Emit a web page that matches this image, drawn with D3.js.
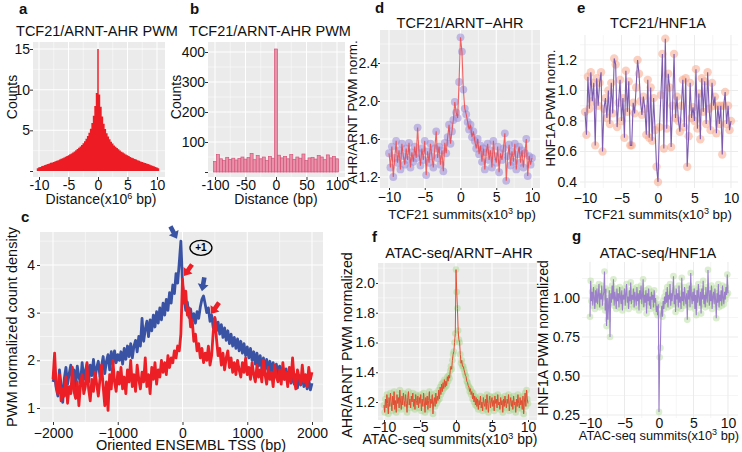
<!DOCTYPE html>
<html><head><meta charset="utf-8">
<script src="https://cdn.jsdelivr.net/npm/d3@7"></script>
<style>body{margin:0;background:#fff}svg{display:block}text{font-family:'Liberation Sans',Arial,Helvetica,sans-serif}</style>
</head><body>
<script>
// ---------------- DATA ----------------
// Panel a: histogram of distances (x10^6 bp), bin width 0.25, centers -10.25 .. 10.25
const histA_binWidth = 0.25;
const histA_firstCenter = -10.25;
const histA_counts = [0.35,0.45,0.5,0.6,0.66,0.74,0.8,0.86,0.93,1.0,1.05,1.12,1.2,1.26,1.33,1.42,1.5,1.57,1.65,1.75,1.84,1.95,2.05,2.15,2.28,2.4,2.55,2.7,2.85,3.0,3.2,3.4,3.65,3.95,4.3,4.7,5.2,5.9,6.8,8.0,9.6,
  15,
  9.4,7.9,6.7,5.8,5.15,4.65,4.25,3.9,3.6,3.38,3.15,2.98,2.82,2.66,2.52,2.38,2.26,2.14,2.03,1.93,1.83,1.73,1.64,1.56,1.48,1.4,1.33,1.25,1.18,1.11,1.04,0.98,0.92,0.85,0.79,0.72,0.65,0.58,0.5,0.43,0.33];

// Panel b: histogram of distances (bp), bin width 5, centers -100 .. 100
const histB_binWidth = 5;
const histB_centers = d3.range(-100, 101, 5);
const histB_counts = [35,58,44,38,49,42,46,40,45,50,43,48,62,41,55,44,50,38,52,46,410,56,47,52,44,58,42,50,46,60,38,47,49,43,55,50,41,57,47,52,44];

// Panel c: density around oriented TSS, positions -2000..2000 step 25
const tssPositions = d3.range(-2000, 2001, 25);
const tssBlue = [1.55,1.68,1.42,1.25,1.80,1.48,1.12,1.62,1.85,1.50,
 1.72,1.90,1.55,1.80,1.45,1.88,1.65,1.52,1.95,1.60,
 1.78,1.92,1.55,1.90,1.68,2.02,1.62,1.85,1.98,1.66,
 1.88,2.08,1.72,1.98,2.12,1.80,2.18,1.92,2.20,1.95,
 2.12,
 2.00,2.18,1.92,2.25,2.02,2.30,2.08,2.35,2.05,2.30,
 2.42,2.18,2.50,2.30,2.88,2.40,2.65,2.82,2.50,2.85,
 2.62,2.95,2.70,3.02,2.78,3.10,2.85,3.20,2.95,3.28,
 3.05,3.42,3.20,3.58,3.40,3.82,3.62,4.05,4.50,3.60,
 3.30,3.05,3.22,2.90,3.08,2.82,2.98,2.78,3.02,2.88,
 3.12,3.28,3.35,3.18,3.00,3.10,2.82,2.95,2.68,2.88,
 2.62,2.80,2.55,2.75,2.48,2.68,2.42,2.62,2.35,2.55,
 2.30,2.48,2.25,2.45,2.20,2.40,2.15,2.35,2.10,2.28,
 2.05,2.25,2.00,2.18,1.92,2.15,1.88,2.10,1.82,2.05,
 1.80,2.02,1.78,1.98,1.72,1.95,1.70,1.92,1.66,1.88,
 1.65,1.85,1.60,1.82,1.55,1.78,1.52,1.75,1.50,1.70,
 1.42,1.68,1.48,1.72,1.45,1.65,1.40,1.60,1.38,1.52];
const tssRed = [1.60,2.15,1.45,1.30,1.70,1.15,1.40,1.25,1.65,1.10,
 1.45,1.30,1.85,1.35,1.20,1.55,1.05,1.50,1.70,1.30,
 1.45,1.95,1.40,1.15,1.60,1.35,1.75,1.50,1.25,1.60,
 1.90,1.45,1.05,1.55,0.95,1.70,1.40,2.00,1.55,1.35,
 1.75,
 1.50,1.85,1.40,1.65,1.30,1.80,1.55,2.00,1.45,1.70,
 1.35,1.90,1.60,1.40,1.75,1.55,2.05,1.45,1.70,1.30,
 1.85,1.60,1.95,1.50,1.80,1.65,2.00,1.75,1.95,1.70,
 2.10,1.85,2.05,1.95,2.20,2.05,2.30,2.20,2.55,3.70,
 3.20,3.45,2.95,3.10,2.70,2.85,2.40,2.55,2.20,2.35,
 2.05,2.25,1.95,2.15,2.00,2.30,1.90,2.10,2.60,2.90,
 2.45,2.10,2.25,1.90,2.15,1.80,2.05,2.20,1.85,2.05,
 1.75,1.95,1.70,2.00,1.80,1.65,1.95,1.75,2.05,1.70,
 1.85,1.60,1.95,1.70,1.55,1.90,1.65,1.80,1.55,2.00,
 1.70,1.50,1.85,1.60,1.75,1.45,1.90,1.65,1.55,1.80,
 1.50,1.95,1.60,1.75,1.45,1.85,1.55,2.05,1.60,1.40,
 1.80,1.65,1.50,1.90,1.55,1.70,1.45,1.85,1.60,1.75];
const tssArrows = [
  {bp: -85, v: 4.55, angle: 62, color: "blue"},
  {bp: 23,  v: 3.77, angle: 125, color: "red"},
  {bp: 300, v: 3.45, angle: 100, color: "blue"},
  {bp: 440, v: 2.97, angle: 125, color: "red"}];
const tssLabel = {bp: 285, v: 4.36, text: "+1"};

// Panel d: TCF21 summits, ARNT-AHR, x = -10..10 step 0.2 (x10^3 bp)
const summitX = d3.range(101).map(i => -10 + i * 0.2);
const dVals = [1.45,1.30,1.52,1.20,1.40,1.58,1.35,1.48,1.28,1.55,
 1.42,1.33,1.50,1.38,1.56,1.30,1.46,1.36,1.52,1.40,
 1.72,1.45,1.32,1.50,1.38,1.58,1.22,1.47,1.35,1.55,
 1.42,1.30,1.50,1.68,1.40,1.52,1.33,1.48,1.26,1.56,
 1.45,1.62,1.75,1.55,1.68,1.80,1.99,1.88,1.82,2.20,
 2.67,2.52,2.12,1.92,1.86,1.78,1.70,1.75,1.62,1.68,
 1.58,1.50,1.60,1.44,1.53,1.36,1.50,1.28,1.46,1.55,
 1.38,1.48,1.30,1.58,1.42,1.35,1.52,1.25,1.45,1.38,
 1.50,1.66,1.16,1.42,1.54,1.32,1.47,1.36,1.55,1.28,
 1.44,1.52,1.35,1.48,1.30,1.45,1.60,1.21,1.42,1.33,
 1.40];
// Panel e: TCF21 summits, HNF1A
const eVals = [0.86,0.71,1.09,0.88,1.12,0.93,1.05,0.64,1.08,0.90,
 1.05,1.12,0.60,0.88,0.95,0.82,1.00,0.78,1.05,0.85,
 1.21,1.17,0.76,0.92,1.07,0.80,0.95,0.69,1.13,0.86,
 1.06,0.64,0.64,0.92,0.85,1.02,1.20,1.11,0.93,0.84,
 0.96,0.88,0.71,1.07,0.69,1.02,0.67,0.95,0.74,0.50,
 0.40,0.76,0.97,1.24,0.62,1.34,0.75,1.11,1.02,0.63,
 0.90,1.24,0.82,0.96,0.80,0.73,0.90,1.07,0.76,1.08,
 0.50,0.70,1.05,0.82,0.89,0.80,1.14,0.75,0.98,0.68,
 1.08,0.86,1.06,0.78,1.12,0.88,0.74,1.05,0.90,0.96,
 0.72,0.90,0.78,0.90,0.58,0.90,0.99,0.78,0.90,0.74,
 0.80];
// Panel f/g: ATAC-seq summits, x = -10..10 step 0.1
const atacX = d3.range(201).map(i => -10 + i * 0.1);
const fVals = [1.18,1.13,1.22,1.16,1.25,1.19,1.12,1.23,1.17,1.26,
 1.20,1.14,1.24,1.18,1.27,1.15,1.21,1.13,1.25,1.19,
 1.23,1.16,1.28,1.20,1.15,1.24,1.18,1.26,1.21,1.17,
 1.25,1.19,1.13,1.23,1.27,1.18,1.22,1.16,1.24,1.20,
 1.26,1.17,1.22,1.15,1.25,1.21,1.18,1.24,1.16,1.23,
 1.19,1.25,1.14,1.22,1.17,1.26,1.20,1.13,1.23,1.18,
 1.24,1.15,1.21,1.27,1.16,1.22,1.19,1.25,1.12,1.20,
 1.23,1.17,1.26,1.19,1.24,1.21,1.28,1.22,1.30,1.25,
 1.32,1.27,1.33,1.29,1.35,1.30,1.34,1.31,1.37,1.34,
 1.38,1.36,1.41,1.44,1.42,1.48,1.52,1.54,1.60,1.66,
 2.09,1.94,1.83,1.68,1.62,1.60,1.52,1.46,1.48,1.44,
 1.44,1.42,1.40,1.38,1.37,1.34,1.33,1.31,1.30,1.27,
 1.29,1.25,1.27,1.22,1.26,1.20,1.24,1.18,1.23,1.17,
 1.22,1.15,1.21,1.18,1.24,1.16,1.20,1.14,1.23,1.19,
 1.17,1.22,1.15,1.25,1.19,1.13,1.21,1.24,1.16,1.20,
 1.23,1.17,1.21,1.14,1.24,1.19,1.22,1.16,1.25,1.18,
 1.20,1.15,1.23,1.18,1.21,1.13,1.22,1.17,1.24,1.19,
 1.16,1.22,1.19,1.25,1.14,1.20,1.23,1.17,1.21,1.15,
 1.24,1.18,1.20,1.13,1.22,1.17,1.25,1.19,1.16,1.23,
 1.18,1.21,1.15,1.24,1.12,1.20,1.26,1.17,1.28,1.22,
 1.19];
const gVals = [0.88,1.11,0.98,1.04,0.95,1.07,1.00,0.93,1.05,0.97,
 1.06,0.96,1.02,1.09,0.94,1.03,0.99,1.08,0.95,1.01,
 1.04,1.17,0.92,1.06,0.82,1.00,0.86,0.96,1.05,0.75,
 1.03,0.97,1.08,0.99,1.12,0.95,1.04,1.00,0.93,1.06,
 0.98,1.03,0.94,1.07,1.01,0.96,1.05,0.92,1.02,0.99,
 1.06,0.95,1.03,1.09,0.97,1.01,0.93,1.05,0.98,1.10,
 0.96,1.02,0.99,1.06,0.94,1.04,1.00,0.95,1.07,0.98,
 1.03,0.92,1.05,0.99,1.08,0.96,1.01,1.12,0.94,1.02,
 0.97,1.05,0.90,1.03,0.98,1.06,0.95,1.01,0.93,1.04,
 0.99,1.02,0.94,1.05,0.97,1.00,0.91,0.95,0.89,0.96,
 0.27,0.62,0.68,0.90,0.95,0.88,0.98,0.93,1.01,0.96,
 1.04,0.97,1.07,0.94,1.02,0.99,1.09,0.95,1.03,0.98,
 1.05,1.14,0.96,1.02,0.91,1.06,0.99,1.03,0.94,1.08,
 0.97,1.01,0.93,1.13,0.98,1.04,0.95,1.07,1.00,0.96,
 1.03,0.86,1.05,0.99,1.08,0.94,1.16,1.01,0.96,1.04,
 0.98,1.06,0.93,1.02,0.89,1.05,0.97,1.09,1.00,0.95,
 1.04,0.90,1.06,0.99,1.11,0.96,1.02,0.94,1.07,1.00,
 0.97,1.18,1.03,0.95,1.05,0.98,1.08,0.93,1.01,1.04,
 0.96,1.06,0.99,0.87,1.03,0.97,1.09,0.94,1.02,0.98,
 1.05,0.95,1.08,1.00,0.96,1.04,0.99,1.07,1.02,1.15,
 1.03];

// ---------------- DRAWING ----------------
const W = 742, H = 452;
const FONT = "'Liberation Sans', Arial, Helvetica, sans-serif";
const svg = d3.select("body").append("svg").attr("width", W).attr("height", H)
  .attr("font-family", FONT);

function panel(p) {
  const g = svg.append("g");
  const x = d3.scaleLinear().domain(p.xCal).range(p.xPx);
  const y = d3.scaleLinear().domain(p.yCal).range(p.yPx);
  const [l, r] = p.rx, [t, b] = p.ry;
  const gridCol = p.gray ? "#FFFFFF" : "#EBEBEB";
  if (p.gray) g.append("rect").attr("x", l).attr("y", t).attr("width", r - l).attr("height", b - t).attr("fill", "#EBEBEB");
  const vl = (vals, w) => g.append("g").selectAll("line").data(vals).join("line")
    .attr("x1", d => x(d)).attr("x2", d => x(d)).attr("y1", t).attr("y2", b)
    .attr("stroke", gridCol).attr("stroke-width", w);
  const hl = (vals, w) => g.append("g").selectAll("line").data(vals).join("line")
    .attr("y1", d => y(d)).attr("y2", d => y(d)).attr("x1", l).attr("x2", r)
    .attr("stroke", gridCol).attr("stroke-width", w);
  vl(p.xMinor, 0.5); hl(p.yMinor, 0.5);
  vl(p.xTicks, 1.05); hl(p.yTicks, 1.05);
  const fs = p.tickFont || 14;
  const xa = g.append("g").attr("transform", `translate(0,${b})`)
    .call(d3.axisBottom(x).tickValues(p.xTicks).tickFormat(p.xFmt).tickSize(p.tick).tickPadding(p.xPad));
  const ya = g.append("g").attr("transform", `translate(${l},0)`)
    .call(d3.axisLeft(y).tickValues(p.yTicks).tickFormat(p.yFmt).tickSize(p.tick).tickPadding(p.yPad));
  [xa, ya].forEach(a => {
    a.select(".domain").remove();
    a.selectAll(".tick line").attr("stroke", "#333").attr("stroke-width", 1);
    a.selectAll("text").attr("font-size", fs).attr("fill", "#111").attr("font-family", FONT);
  });
  const plot = g.append("g");
  return {g: plot, x, y, l, r, t, b};
}

function txt(x, y, s, opt = {}) {
  const t = svg.append("text").attr("x", x).attr("y", y)
    .attr("font-size", opt.size || 14).attr("fill", "#111")
    .attr("text-anchor", opt.anchor || "middle")
    .attr("font-weight", opt.bold ? "bold" : "normal");
  if (opt.rotate) t.attr("transform", `rotate(-90,${x},${y})`);
  if (opt.sup) {
    t.append("tspan").text(s[0]);
    t.append("tspan").attr("font-size", 9).attr("dy", -5.5).text(s[1]);
    t.append("tspan").attr("dy", 5.5).text(s[2]);
  } else t.text(s);
  return t;
}
const plain = d => String(d);
const minusFmt = d3.format("d");

// ---------- Panel a ----------
{
  const P = panel({xCal: [-10, 10], xPx: [39, 157], yCal: [0, 15], yPx: [171, 49],
    rx: [33, 165], ry: [42, 177], gray: true,
    xTicks: [-10, -5, 0, 5, 10], xMinor: [-7.5, -2.5, 2.5, 7.5],
    yTicks: [0, 5, 10, 15], yMinor: [2.5, 7.5, 12.5],
    xFmt: plain, yFmt: d => d === 0 ? "" : String(d), tick: 3, xPad: 0, yPad: 0});
  const pts = histA_counts.map((c, i) => [histA_firstCenter + i * histA_binWidth - histA_binWidth / 2, c]);
  pts.push([histA_firstCenter + histA_counts.length * histA_binWidth - histA_binWidth / 2, 0]);
  P.g.append("path").datum(pts)
    .attr("d", d3.area().curve(d3.curveStepAfter).x(d => P.x(d[0])).y0(P.y(0)).y1(d => P.y(d[1])))
    .attr("fill", "#ED1C24");
  txt(19, 14, "a", {bold: true, size: 15, anchor: "start"});
  txt(97, 36, "TCF21/ARNT-AHR PWM", {size: 14.5});
  txt(101, 204, ["Distance(x10", "6", " bp)"], {sup: true});
  txt(17, 97, "Counts", {rotate: true});
}

// ---------- Panel b ----------
{
  const P = panel({xCal: [-100, 100], xPx: [215, 337], yCal: [0, 400], yPx: [172, 52],
    rx: [208, 345], ry: [42, 177], gray: true,
    xTicks: [-100, -50, 0, 50, 100], xMinor: [-75, -25, 25, 75],
    yTicks: [0, 100, 200, 300, 400], yMinor: [50, 150, 250, 350],
    xFmt: plain, yFmt: d => d === 0 ? "" : String(d), tick: 3, xPad: 0, yPad: 0});
  P.g.selectAll("rect").data(histB_centers).join("rect")
    .attr("x", d => P.x(d - histB_binWidth / 2))
    .attr("width", d => P.x(d + histB_binWidth / 2) - P.x(d - histB_binWidth / 2))
    .attr("y", (d, i) => P.y(histB_counts[i]))
    .attr("height", (d, i) => P.y(0) - P.y(histB_counts[i]))
    .attr("fill", "#E991A8").attr("stroke", "#D5557A").attr("stroke-width", 0.7);
  txt(190, 14, "b", {bold: true, size: 15, anchor: "start"});
  txt(270, 36, "TCF21/ARNT-AHR PWM", {size: 14.5});
  txt(276, 204, "Distance (bp)");
  txt(181, 97, "Counts", {rotate: true});
}

// ---------- Panel c ----------
{
  const P = panel({xCal: [-2000, 2000], xPx: [53, 312], yCal: [1, 4], yPx: [408, 265],
    rx: [40, 323], ry: [232, 422], gray: true,
    xTicks: [-2000, -1000, 0, 1000, 2000], xMinor: [-1500, -500, 500, 1500],
    yTicks: [1, 2, 3, 4], yMinor: [1.5, 2.5, 3.5, 4.5],
    xFmt: minusFmt, yFmt: minusFmt, tick: 3, xPad: 3, yPad: 2});
  const line = vals => d3.line().x((d, i) => P.x(tssPositions[i])).y(d => P.y(d))(vals);
  P.g.append("path").attr("d", line(tssBlue)).attr("fill", "none").attr("stroke", "#3A52A3").attr("stroke-width", 2.8).attr("stroke-linejoin", "round");
  P.g.append("path").attr("d", line(tssRed)).attr("fill", "none").attr("stroke", "#EC1F27").attr("stroke-width", 2.8).attr("stroke-linejoin", "round");
  const arrowShape = "M0,0 L-7,-5.5 L-7,-2.3 L-14,-2.3 L-14,2.3 L-7,2.3 L-7,5.5 Z";
  P.g.selectAll(".arr").data(tssArrows).join("path").attr("class", "arr")
    .attr("d", arrowShape)
    .attr("transform", d => `translate(${P.x(d.bp)},${P.y(d.v)}) rotate(${d.angle})`)
    .attr("fill", d => d.color === "blue" ? "#3A52A3" : "#EC1F27");
  P.g.append("ellipse").attr("cx", P.x(tssLabel.bp)).attr("cy", P.y(tssLabel.v))
    .attr("rx", 11).attr("ry", 7.5).attr("fill", "none").attr("stroke", "#000").attr("stroke-width", 1.3);
  P.g.append("text").attr("x", P.x(tssLabel.bp)).attr("y", P.y(tssLabel.v) + 3.5)
    .attr("text-anchor", "middle").attr("font-size", 10).attr("font-weight", "bold").attr("fill", "#000").text(tssLabel.text);
  txt(21, 222, "c", {bold: true, size: 15, anchor: "start"});
  txt(191, 450, "Oriented ENSEMBL TSS (bp)", {size: 14.5});
  txt(17, 327, "PWM normalized count density", {rotate: true, size: 14.5});
}

// helper for point+line panels
function pointLine(P, xs, vals, o) {
  P.g.selectAll("circle").data(vals).join("circle")
    .attr("cx", (d, i) => P.x(xs[i])).attr("cy", d => P.y(d)).attr("r", o.r)
    .attr("fill", o.pt).attr("fill-opacity", o.ptOp);
  P.g.append("path").attr("d", d3.line().x((d, i) => P.x(xs[i])).y(d => P.y(d))(vals))
    .attr("fill", "none").attr("stroke", o.ln).attr("stroke-width", o.lw).attr("stroke-opacity", o.lnOp || 1);
}

// ---------- Panel d ----------
{
  const P = panel({xCal: [-10, 10], xPx: [389, 532], yCal: [1.2, 2.4], yPx: [177, 63],
    rx: [380, 540], ry: [30, 188], gray: true,
    xTicks: [-10, -5, 0, 5, 10], xMinor: [-7.5, -2.5, 2.5, 7.5],
    yTicks: [1.2, 1.6, 2.0, 2.4], yMinor: [1.4, 1.8, 2.2, 2.6],
    xFmt: minusFmt, yFmt: d3.format(".1f"), tick: 2, xPad: 2, yPad: 0});
  pointLine(P, summitX, dVals, {r: 3.9, pt: "#9A8AD8", ptOp: 0.55, ln: "#EF4040", lw: 1.1, lnOp: 0.8});
  txt(375, 13, "d", {bold: true, size: 15, anchor: "start"});
  txt(460, 28, "TCF21/ARNT\u2212AHR", {size: 14.5});
  txt(462, 219, ["TCF21 summits(x10", "3", " bp)"], {sup: true, size: 13.3});
  txt(357, 112, "AHR/ARNT PWM norm.", {rotate: true, size: 13.5});
}

// ---------- Panel e ----------
{
  const P = panel({xCal: [-10, 10], xPx: [585, 731], yCal: [0.4, 1.2], yPx: [182, 60],
    rx: [580, 738], ry: [35, 188], gray: false,
    xTicks: [-10, -5, 0, 5, 10], xMinor: [-7.5, -2.5, 2.5, 7.5],
    yTicks: [0.4, 0.6, 0.8, 1.0, 1.2], yMinor: [0.5, 0.7, 0.9, 1.1, 1.3],
    xFmt: minusFmt, yFmt: d3.format(".1f"), tick: 0, xPad: 5, yPad: 3});
  pointLine(P, summitX, eVals, {r: 4.2, pt: "#F8A98C", ptOp: 0.55, ln: "#7D5BAF", lw: 1.1});
  txt(577, 13, "e", {bold: true, size: 15, anchor: "start"});
  txt(658, 28, "TCF21/HNF1A", {size: 14.5});
  txt(658, 219, ["TCF21 summits(x10", "3", " bp)"], {sup: true, size: 13.3});
  txt(555, 108, "HNF1A PWM norm.", {rotate: true, size: 13.3});
}

// ---------- Panel f ----------
{
  const P = panel({xCal: [-10, 10], xPx: [384, 528], yCal: [1.2, 2.0], yPx: [402, 283],
    rx: [378, 537], ry: [263, 420], gray: true,
    xTicks: [-10, -5, 0, 5, 10], xMinor: [-7.5, -2.5, 2.5, 7.5],
    yTicks: [1.2, 1.4, 1.6, 1.8, 2.0], yMinor: [1.1, 1.3, 1.5, 1.7, 1.9, 2.1],
    xFmt: minusFmt, yFmt: d3.format(".1f"), tick: 2, xPad: 0, yPad: 1});
  pointLine(P, atacX, fVals, {r: 3.3, pt: "#A3D285", ptOp: 0.45, ln: "#E24E33", lw: 1});
  txt(372, 242, "f", {bold: true, size: 15, anchor: "start"});
  txt(459, 258, "ATAC-seq/ARNT\u2212AHR", {size: 14.5});
  txt(450, 444, ["ATAC-seq summits(x10", "3", " bp)"], {sup: true, size: 14});
  txt(352, 345, "AHR/ARNT PWM normalized", {rotate: true, size: 14.3});
}

// ---------- Panel g ----------
{
  const P = panel({xCal: [-10, 10], xPx: [590, 728], yCal: [0.25, 1.0], yPx: [415, 298],
    rx: [582, 738], ry: [262, 418], gray: false,
    xTicks: [-10, -5, 0, 5, 10], xMinor: [-7.5, -2.5, 2.5, 7.5],
    yTicks: [0.25, 0.5, 0.75, 1.0], yMinor: [0.375, 0.625, 0.875, 1.125],
    xFmt: minusFmt, yFmt: d3.format(".2f"), tick: 0, xPad: 0, yPad: 2});
  pointLine(P, atacX, gVals, {r: 3.3, pt: "#B8DEA0", ptOp: 0.5, ln: "#9C80C9", lw: 1.1});
  txt(572, 241, "g", {bold: true, size: 15, anchor: "start"});
  txt(658, 258, "ATAC-seq/HNF1A", {size: 14.5});
  txt(659, 440, ["ATAC-seq summits(x10", "3", " bp)"], {sup: true, size: 12.8});
  txt(548, 338, "HNF1A PWM normalized", {rotate: true, size: 14});
}
</script>
</body></html>
